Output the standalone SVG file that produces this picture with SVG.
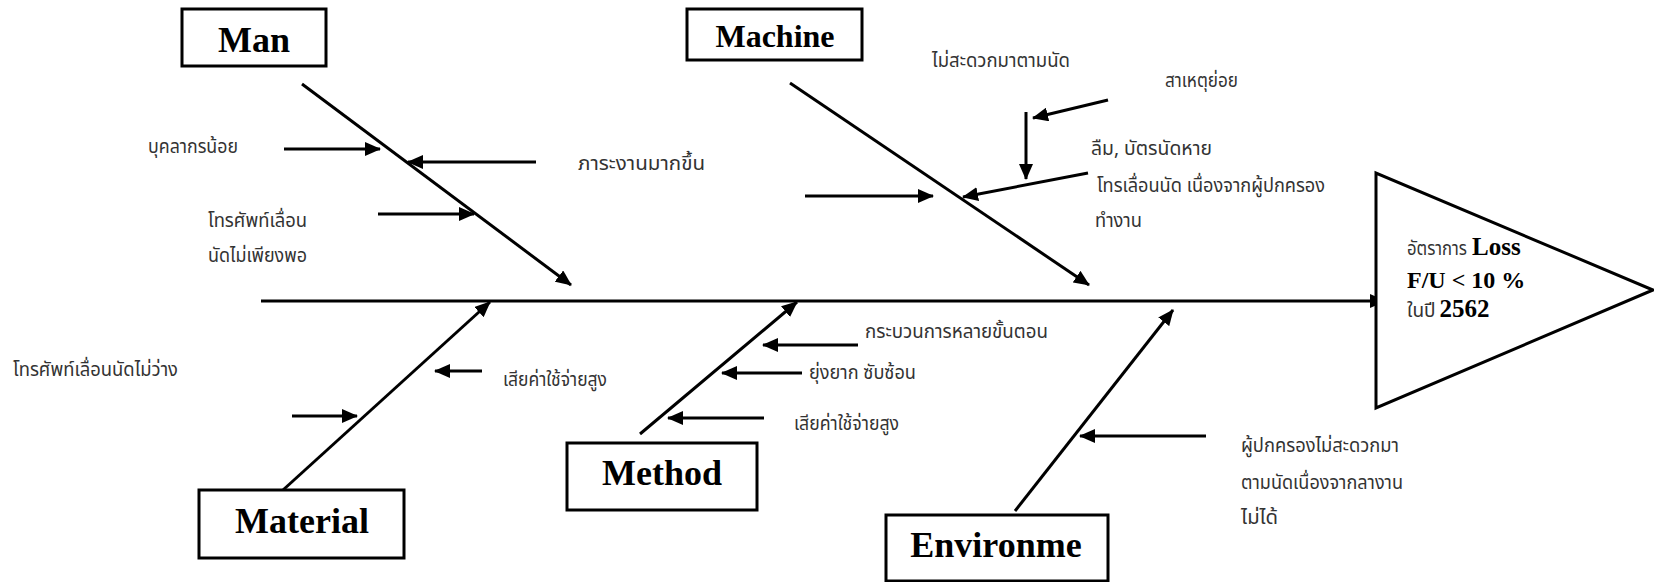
<svg xmlns="http://www.w3.org/2000/svg" width="1654" height="582" viewBox="0 0 1654 582">
<style>
.box{fill:#fff;stroke:#000;stroke-width:3}
.hd{font-family:"Liberation Serif","Times New Roman",serif;font-weight:bold;fill:#000;text-anchor:middle}
.th{font-family:"Noto Sans Thai","Noto Sans","DejaVu Sans",sans-serif;font-size:19px;fill:#333}
.bd{font-family:"Liberation Serif",serif;font-weight:bold;fill:#000}
.ln{stroke:#000;stroke-width:3;fill:none;marker-end:url(#ah)}
</style>
<defs>
<marker id="ah" viewBox="0 0 16 14" refX="15" refY="7" markerWidth="16" markerHeight="14" markerUnits="userSpaceOnUse" orient="auto">
<path d="M0,0 L16,7 L0,14 z" fill="#000"/>
</marker>
</defs>
<rect width="1654" height="582" fill="#fff"/>

<g id="connectors">
<line class="ln" x1="261" y1="301" x2="1385" y2="301"/>
<line class="ln" x1="302" y1="84" x2="571" y2="285"/>
<line class="ln" x1="790" y1="83" x2="1089" y2="285"/>
<line class="ln" x1="283" y1="490" x2="490" y2="302"/>
<line class="ln" x1="640" y1="434" x2="797" y2="302"/>
<line class="ln" x1="1015" y1="511" x2="1173" y2="310"/>
<line class="ln" x1="284" y1="149" x2="380" y2="149"/>
<line class="ln" x1="536" y1="162" x2="408" y2="162"/>
<line class="ln" x1="378" y1="214" x2="474" y2="214"/>
<line class="ln" x1="805" y1="196" x2="933" y2="196"/>
<line class="ln" x1="1088" y1="173" x2="963" y2="197"/>
<line class="ln" x1="1026" y1="112" x2="1026" y2="179"/>
<line class="ln" x1="1108" y1="100" x2="1033" y2="118"/>
<line class="ln" x1="292" y1="416" x2="357" y2="416"/>
<line class="ln" x1="482" y1="371" x2="435" y2="371"/>
<line class="ln" x1="858" y1="345" x2="763" y2="345"/>
<line class="ln" x1="802" y1="373" x2="722" y2="373"/>
<line class="ln" x1="764" y1="418" x2="668" y2="418"/>
<line class="ln" x1="1206" y1="436" x2="1080" y2="436"/>
</g>

<g id="man">
<rect class="box" x="182" y="9" width="144" height="57"/>
<text class="hd" x="254" y="52" font-size="36">Man</text>
</g>
<g id="machine">
<rect class="box" x="687" y="9" width="175" height="51"/>
<text class="hd" x="775" y="47" font-size="32">Machine</text>
</g>
<g id="material">
<rect class="box" x="199" y="490" width="205" height="68"/>
<text class="hd" x="302" y="533" font-size="36">Material</text>
</g>
<g id="method">
<rect class="box" x="567" y="443" width="190" height="67"/>
<text class="hd" x="662" y="485" font-size="36">Method</text>
</g>
<g id="environment">
<rect class="box" x="886" y="515" width="222" height="66"/>
<text class="hd" x="996" y="557" font-size="36">Environme</text>
</g>
<g id="effect">
<polygon points="1376,173 1376,408 1653,290" fill="#fff" stroke="#000" stroke-width="3"/>
<text x="1407" y="255"><tspan class="th" textLength="60" lengthAdjust="spacingAndGlyphs">อัตราการ</tspan><tspan class="bd" font-size="25" dx="5">Loss</tspan></text>
<text class="bd" x="1407" y="288" font-size="24">F/U &lt; 10 %</text>
<text x="1407" y="317"><tspan class="th">ในปี</tspan><tspan class="bd" font-size="25" dx="4">2562</tspan></text>
</g>

<g id="labels">
<text class="th" x="148" y="153" textLength="90" lengthAdjust="spacingAndGlyphs">บุคลากรน้อย</text>
<text class="th" x="578" y="170" textLength="127" lengthAdjust="spacingAndGlyphs">ภาระงานมากขึ้น</text>
<text class="th" x="208" y="227" textLength="99" lengthAdjust="spacingAndGlyphs">โทรศัพท์เลื่อน</text>
<text class="th" x="208" y="262" textLength="99" lengthAdjust="spacingAndGlyphs">นัดไม่เพียงพอ</text>
<text class="th" x="932" y="67" textLength="138" lengthAdjust="spacingAndGlyphs">ไม่สะดวกมาตามนัด</text>
<text class="th" x="1165" y="87" textLength="73" lengthAdjust="spacingAndGlyphs">สาเหตุย่อย</text>
<text class="th" x="1091" y="155" textLength="121" lengthAdjust="spacingAndGlyphs">ลืม, บัตรนัดหาย</text>
<text class="th" x="1097" y="192" textLength="228" lengthAdjust="spacingAndGlyphs">โทรเลื่อนนัด เนื่องจากผู้ปกครอง</text>
<text class="th" x="1095" y="227" textLength="47" lengthAdjust="spacingAndGlyphs">ทำงาน</text>
<text class="th" x="13" y="376" textLength="165" lengthAdjust="spacingAndGlyphs">โทรศัพท์เลื่อนนัดไม่ว่าง</text>
<text class="th" x="503" y="386" textLength="104" lengthAdjust="spacingAndGlyphs">เสียค่าใช้จ่ายสูง</text>
<text class="th" x="865" y="338" textLength="183" lengthAdjust="spacingAndGlyphs">กระบวนการหลายขั้นตอน</text>
<text class="th" x="809" y="379" textLength="107" lengthAdjust="spacingAndGlyphs">ยุ่งยาก ซับซ้อน</text>
<text class="th" x="794" y="430" textLength="105" lengthAdjust="spacingAndGlyphs">เสียค่าใช้จ่ายสูง</text>
<text class="th" x="1241" y="452" textLength="158" lengthAdjust="spacingAndGlyphs">ผู้ปกครองไม่สะดวกมา</text>
<text class="th" x="1241" y="489" textLength="162" lengthAdjust="spacingAndGlyphs">ตามนัดเนื่องจากลางาน</text>
<text class="th" x="1241" y="524" textLength="37" lengthAdjust="spacingAndGlyphs">ไม่ได้</text>
</g>
</svg>
